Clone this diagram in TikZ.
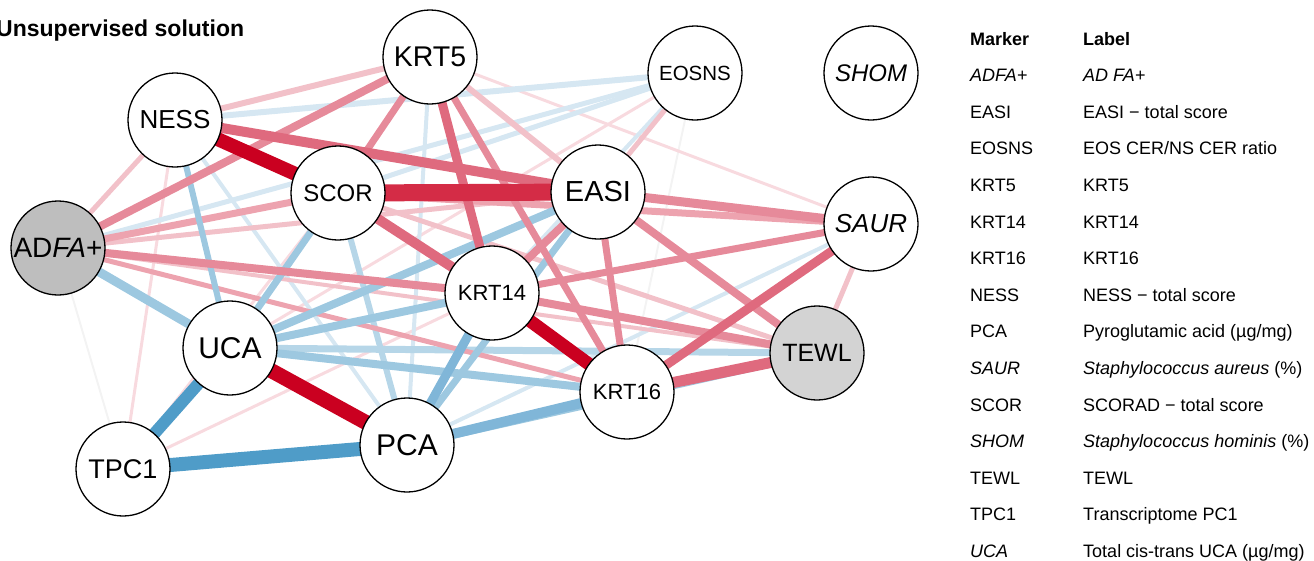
\documentclass[tikz,border=0pt]{standalone}
\usepackage{fontspec}
\setmainfont{Liberation Sans}
\usetikzlibrary{backgrounds}

\definecolor{edgefaint}{HTML}{F3F3F3}
\definecolor{pinkD}{HTML}{F8DADF}
\definecolor{pinkC}{HTML}{F2C1C9}
\definecolor{pinkB}{HTML}{EDA3AF}
\definecolor{pinkA}{HTML}{E68A9A}
\definecolor{redB}{HTML}{DF6A7E}
\definecolor{redA}{HTML}{D42C46}
\definecolor{redX}{HTML}{CA0020}
\definecolor{blueD}{HTML}{D6E7F2}
\definecolor{blueC}{HTML}{B6D6E8}
\definecolor{blueB}{HTML}{9DC8E0}
\definecolor{blueA}{HTML}{80B6D8}
\definecolor{blueX}{HTML}{4F9CC8}
\definecolor{nodegray}{HTML}{BEBEBE}
\definecolor{nodelight}{HTML}{D3D3D3}

\newcommand{\fsz}[1]{\fontsize{#1}{#1}\selectfont}

\tikzset{
  var/.style={circle,draw=black,line width=1.3pt,fill=white,minimum size=94pt,inner sep=0pt},
  legend/.style={anchor=base west,inner sep=0pt,font=\fsz{18}},
}

\begin{document}
\begin{tikzpicture}[x=1pt,y=-1pt]
	\useasboundingbox (0,0) rectangle (1314,560);
	\node[anchor=base west,inner sep=0pt,font=\bfseries\fsz{23}] (title) at (-4,36) {Unsupervised solution};
	% nodes
	\node[var,fill=nodegray] (ADFA) at (58,248) {\fsz{28}AD\textit{FA}+};
	\node[var] (NESS) at (175,120) {\fsz{26}NESS};
	\node[var] (KRT5) at (430,57) {\fsz{28.5}KRT5};
	\node[var] (SCOR) at (338,193) {\fsz{24}SCOR};
	\node[var] (EOSNS) at (695,73) {\fsz{20.5}EOSNS};
	\node[var] (SHOM) at (871,73) {\fsz{24}\textit{SHOM}};
	\node[var] (EASI) at (598,192) {\fsz{29}EASI};
	\node[var] (SAUR) at (871,224) {\fsz{26}\textit{SAUR}};
	\node[var] (UCA) at (230,348) {\fsz{30}UCA};
	\node[var] (KRT14) at (492,293) {\fsz{22}KRT14};
	\node[var] (KRT16) at (627,392) {\fsz{22}KRT16};
	\node[var,fill=nodelight] (TEWL) at (817,353) {\fsz{25}TEWL};
	\node[var] (TPC1) at (123,469) {\fsz{27}TPC1};
	\node[var] (PCA) at (407,445) {\fsz{30}PCA};
	% edges, weakest first
	\begin{pgfonlayer}{background}
		\foreach \a/\b/\w in {ADFA/TPC1/2pt,EOSNS/KRT16/2pt}
			\draw[edgefaint,line width=\w] (\a.center) -- (\b.center);
		\foreach \a/\b/\w in {NESS/TPC1/3pt,TPC1/KRT14/3pt,TPC1/SCOR/3pt,UCA/EOSNS/3pt,KRT5/SAUR/3pt}
			\draw[pinkD,line width=\w] (\a.center) -- (\b.center);
		\foreach \a/\b/\w in {NESS/PCA/4pt,KRT5/PCA/4pt,SAUR/PCA/4pt,KRT14/EOSNS/4pt,NESS/EOSNS/6pt,ADFA/EOSNS/5pt,SCOR/EOSNS/5pt}
			\draw[blueD,line width=\w] (\a.center) -- (\b.center);
		\foreach \a/\b/\w in {ADFA/NESS/5pt,NESS/KRT5/6pt,KRT5/EASI/6pt,SAUR/TEWL/5pt,ADFA/TEWL/4pt,EASI/EOSNS/5pt,SCOR/TEWL/5pt,ADFA/EASI/5pt}
			\draw[pinkC,line width=\w] (\a.center) -- (\b.center);
		\foreach \a/\b/\w in {SCOR/PCA/6pt,UCA/TEWL/7pt}
			\draw[blueC,line width=\w] (\a.center) -- (\b.center);
		\foreach \a/\b/\w in {ADFA/SCOR/7pt,ADFA/KRT16/5pt,SCOR/SAUR/7pt}
			\draw[pinkB,line width=\w] (\a.center) -- (\b.center);
		\foreach \a/\b/\w in {UCA/EASI/8pt,UCA/KRT14/8pt,UCA/KRT16/8pt,UCA/SCOR/7pt,ADFA/UCA/9pt,NESS/UCA/6pt,PCA/EASI/7pt,PCA/TEWL/8pt}
			\draw[blueB,line width=\w] (\a.center) -- (\b.center);
		\foreach \a/\b/\w in {ADFA/KRT5/8pt,ADFA/KRT14/8pt,KRT14/TEWL/8pt,KRT14/SAUR/7pt,EASI/SAUR/9pt,EASI/TEWL/8pt,EASI/KRT14/8pt,KRT5/SCOR/7pt,KRT5/KRT16/7pt,EASI/KRT16/7pt}
			\draw[pinkA,line width=\w] (\a.center) -- (\b.center);
		\foreach \a/\b/\w in {PCA/KRT16/10pt,PCA/KRT14/9pt}
			\draw[blueA,line width=\w] (\a.center) -- (\b.center);
		\foreach \a/\b/\w in {NESS/EASI/10pt,KRT5/KRT14/9pt,SCOR/KRT14/10pt,KRT16/TEWL/11pt,SAUR/KRT16/9pt}
			\draw[redB,line width=\w] (\a.center) -- (\b.center);
		\foreach \a/\b/\w in {TPC1/PCA/14pt,TPC1/UCA/12pt}
			\draw[blueX,line width=\w] (\a.center) -- (\b.center);
		\draw[redA,line width=17pt] (SCOR.center) -- (EASI.center);
		\foreach \a/\b/\w in {NESS/SCOR/14pt,UCA/PCA/15pt,KRT14/KRT16/13pt}
			\draw[redX,line width=\w] (\a.center) -- (\b.center);
	\end{pgfonlayer}
	% legend
	\node[legend,font=\bfseries\fsz{18}] (mhead) at (970,45) {Marker};
	\node[legend,font=\bfseries\fsz{18}] (lhead) at (1083,45) {Label};
	\foreach \m/\l [count=\i] in {{\textit{ADFA+}}/{\textit{AD FA+}},
		EASI/{EASI − total score},
		EOSNS/{EOS CER/NS CER ratio},
		KRT5/KRT5,
		KRT14/KRT14,
		KRT16/KRT16,
		NESS/{NESS − total score},
		PCA/{Pyroglutamic acid (µg/mg)},
		{\textit{SAUR}}/{\textit{Staphylococcus aureus} (\%)},
		SCOR/{SCORAD − total score},
		{\textit{SHOM}}/{\textit{Staphylococcus hominis} (\%)},
		TEWL/TEWL,
		TPC1/{Transcriptome PC1},
		{\textit{UCA}}/{Total cis-trans UCA (µg/mg)}}{
		\node[legend] (m\i) at (970,45+36.6*\i) {\m};
		\node[legend] (l\i) at (1083,45+36.6*\i) {\l};
	}
\end{tikzpicture}
\end{document}
